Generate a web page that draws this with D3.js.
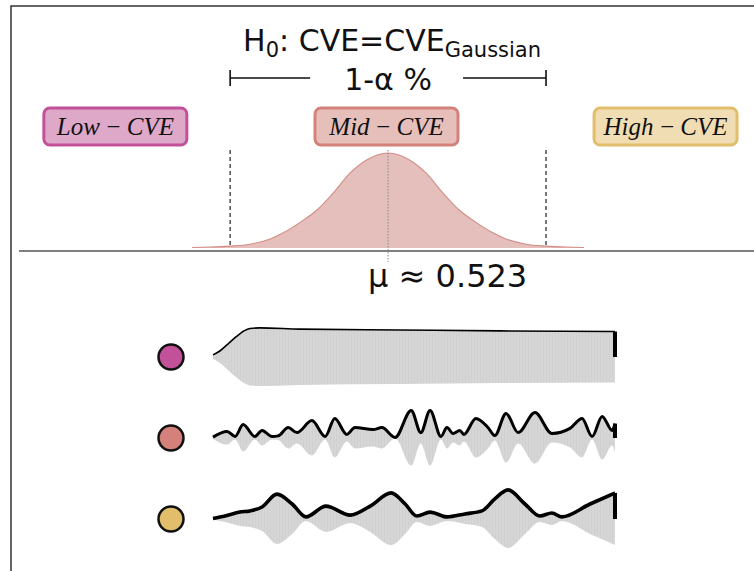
<!DOCTYPE html>
<html>
<head>
<meta charset="utf-8">
<script src="https://cdn.jsdelivr.net/npm/d3@7"></script>
<style>
  html, body { margin: 0; padding: 0; background: #fff; }
  svg { display: block; }
</style>
</head>
<body>
<svg id="chart" width="754" height="571"></svg>
<script>
// ---- Null distribution (relative density over CVE) ----
const MU = 0.523;
const CRIT_LO = 0.493, CRIT_HI = 0.553;
const gaussCVE = [0.4858, 0.4892, 0.4930, 0.4968, 0.5006, 0.5031, 0.5063, 0.5095, 0.5126, 0.5158, 0.5190, 0.5230,
                  0.5270, 0.5302, 0.5334, 0.5365, 0.5397, 0.5429, 0.5454, 0.5492, 0.5530, 0.5568, 0.5602];
const gaussDensity = [0.005, 0.01, 0.02, 0.04, 0.095, 0.16, 0.27, 0.40, 0.58, 0.79, 0.93, 1.0,
                      0.93, 0.79, 0.58, 0.40, 0.27, 0.16, 0.095, 0.04, 0.02, 0.01, 0.005];

// ---- Category labels ----
const categories = ["Low", "Mid", "High"];
const categoryFill = ["#dea8c9", "#e6bfbb", "#f0ddb3"];
const categoryStroke = ["#c2519a", "#d3817a", "#e2bd6c"];
const categoryPos = [0.4712, 0.5227, 0.5757];   // label centres on the CVE axis

// ---- Example signals: envelope amplitude over time (% of duration) ----
const lowT   = [0, 1.7, 3.7, 5.7, 7.7, 9.2, 11.7, 21.6, 46.5, 71.4, 100];
const lowAmp = [0.07, 0.2, 0.43, 0.67, 0.87, 0.95, 0.97, 0.93, 0.9, 0.87, 0.85];

const midT   = [0, 3.5, 5.5, 7.5, 10.4, 12.2, 14.7, 16.2, 18.7, 20.9, 24.6, 27.9, 30.3, 33.3, 35.3, 39.8, 42.0, 45.3,
                49.3, 51.7, 54.0, 56.7, 58.2, 59.7, 61.4, 62.4, 65.4, 68.4, 70.1, 72.9, 75.9, 80.1, 84.3, 88.8,
                91.8, 94.3, 96.8, 99.3, 100];
const midAmp = [0.03, 0.22, 0.05, 0.45, 0.05, 0.25, 0.05, 0.07, 0.35, 0.18, 0.58, 0.05, 0.65, 0.12, 0.35, 0.28, 0.35, 0.02,
                0.92, 0.18, 0.92, 0.05, 0.35, 0.15, 0.25, 0.12, 0.65, 0.35, 0.08, 0.82, 0.18, 0.85, 0.15, 0.32,
                0.65, 0.05, 0.72, 0.25, 0.48];

const highT   = [0, 3.0, 6.7, 9.2, 12.2, 15.9, 19.7, 23.1, 28.1, 34.1, 39.1, 44.3, 47.8, 50.7, 54.0, 58.2, 62.7,
                 66.9, 70.1, 73.4, 77.6, 81.3, 84.3, 86.8, 93.8, 100];
const highAmp = [0.02, 0.1, 0.23, 0.27, 0.4, 0.83, 0.5, 0.07, 0.43, 0.13, 0.43, 0.87, 0.5, 0.1, 0.23, 0.07, 0.17,
                 0.27, 0.67, 0.97, 0.5, 0.1, 0.2, 0.07, 0.5, 0.87];

const signals = [
  { t: lowT,  amp: lowAmp,  color: categoryStroke[0], lw: 1.6 },
  { t: midT,  amp: midAmp,  color: categoryStroke[1], lw: 3.0 },
  { t: highT, amp: highAmp, color: categoryStroke[2], lw: 3.6 }
];

// ---- Drawing ----
const svg = d3.select("#chart");
svg.append("rect").attr("width", 754).attr("height", 571).attr("fill", "#fff");

// frame
svg.append("path")
  .attr("d", "M11,571 L11,6 L754,6")
  .attr("fill", "none").attr("stroke", "#333").attr("stroke-width", 1.5);

const xCVE = d3.scaleLinear().domain([0.4529, 0.5925]).range([19, 754]);
const yDens = d3.scaleLinear().domain([0, 1]).range([248, 153]);

// null distribution
const gauss = gaussCVE.map((c, i) => [c, gaussDensity[i]]);
svg.append("path")
  .datum(gauss)
  .attr("d", d3.area().curve(d3.curveMonotoneX)
    .x(d => xCVE(d[0])).y0(yDens(0)).y1(d => yDens(d[1])))
  .attr("fill", "#e5bfbc");
svg.append("path")
  .datum(gauss)
  .attr("d", d3.line().curve(d3.curveMonotoneX)
    .x(d => xCVE(d[0])).y(d => yDens(d[1])))
  .attr("fill", "none").attr("stroke", "#d38c86").attr("stroke-width", 1.1);

// baseline
svg.append("line")
  .attr("x1", 19).attr("x2", 754).attr("y1", 251).attr("y2", 251)
  .attr("stroke", "#555").attr("stroke-width", 1.5);

// critical values
[CRIT_LO, CRIT_HI].forEach(c => {
  svg.append("line")
    .attr("x1", xCVE(c)).attr("x2", xCVE(c)).attr("y1", 150).attr("y2", 247)
    .attr("stroke", "#333").attr("stroke-width", 1.3).attr("stroke-dasharray", "4,3");
});

// mean
svg.append("line")
  .attr("x1", xCVE(MU)).attr("x2", xCVE(MU)).attr("y1", 150).attr("y2", 262)
  .attr("stroke", "#888").attr("stroke-width", 1).attr("stroke-dasharray", "1.5,1.5");

svg.append("text")
  .attr("x", xCVE(MU) - 20).attr("y", 287)
  .attr("font-family", "DejaVu Sans").attr("font-size", 32)
  .attr("fill", "#111")
  .text("μ ≈ " + MU.toFixed(3));

// title
const title = svg.append("text")
  .attr("x", xCVE(MU) + 4).attr("y", 51)
  .attr("text-anchor", "middle")
  .attr("font-family", "DejaVu Sans").attr("font-size", 30).attr("fill", "#111");
title.append("tspan").text("H");
title.append("tspan").attr("font-size", 21).attr("dy", 6).text("0");
title.append("tspan").attr("dy", -6).text(": CVE=CVE");
title.append("tspan").attr("font-size", 21).attr("dy", 6).text("Gaussian");

// confidence bracket
const by = 78;
const bx0 = xCVE(CRIT_LO), bx1 = xCVE(CRIT_HI);
svg.append("path")
  .attr("d", `M${bx0},${by - 8} V${by + 8} M${bx0},${by} H${bx0 + 80}
              M${bx1 - 83},${by} H${bx1} M${bx1},${by - 8} V${by + 8}`)
  .attr("fill", "none").attr("stroke", "#111").attr("stroke-width", 1.6);
svg.append("text")
  .attr("x", xCVE(MU)).attr("y", 90)
  .attr("text-anchor", "middle")
  .attr("font-family", "DejaVu Sans").attr("font-size", 30).attr("fill", "#111")
  .text("1-α %");

// category labels
categories.forEach((c, i) => {
  const cx = xCVE(categoryPos[i]);
  const g = svg.append("g");
  g.append("rect")
    .attr("x", cx - 71.5).attr("y", 108).attr("width", 143).attr("height", 37)
    .attr("rx", 6).attr("ry", 6)
    .attr("fill", categoryFill[i]).attr("stroke", categoryStroke[i]).attr("stroke-width", 3);
  g.append("text")
    .attr("x", cx).attr("y", 135)
    .attr("text-anchor", "middle")
    .attr("font-family", "Liberation Serif").attr("font-style", "italic")
    .attr("font-size", 25).attr("fill", "#111")
    .text(c + "\u2009\u2212\u2009CVE");
});

// faint stripe texture for the oscillating signal
const defs = svg.append("defs");
const pat = defs.append("pattern")
  .attr("id", "carrier").attr("patternUnits", "userSpaceOnUse")
  .attr("width", 3).attr("height", 10);
pat.append("rect").attr("width", 3).attr("height", 10).attr("fill", "#d6d6d6");
pat.append("line").attr("x1", 0.5).attr("x2", 0.5).attr("y1", 0).attr("y2", 10)
  .attr("stroke", "#cccccc").attr("stroke-width", 0.6);

// example signals
const xT = d3.scaleLinear().domain([0, 100]).range([213, 615]);
const rowY = d3.scalePoint().domain([0, 1, 2]).range([357, 519]);
const ampPx = 30;

signals.forEach((s, i) => {
  const cy = rowY(i);
  const pts = s.t.map((t, k) => [t, s.amp[k]]);
  svg.append("path")
    .datum(pts)
    .attr("d", d3.area().curve(d3.curveMonotoneX)
      .x(d => xT(d[0])).y0(d => cy + d[1] * ampPx).y1(d => cy - d[1] * ampPx))
    .attr("fill", "url(#carrier)");
  svg.append("path")
    .datum(pts)
    .attr("d", d3.line().curve(d3.curveMonotoneX)
      .x(d => xT(d[0])).y(d => cy - d[1] * ampPx))
    .attr("fill", "none").attr("stroke", "#000")
    .attr("stroke-width", s.lw).attr("stroke-linejoin", "round");
  const last = pts[pts.length - 1];
  svg.append("line")
    .attr("x1", xT(last[0])).attr("x2", xT(last[0]))
    .attr("y1", cy).attr("y2", cy - last[1] * ampPx)
    .attr("stroke", "#000").attr("stroke-width", 4);
  svg.append("circle")
    .attr("cx", 171).attr("cy", cy).attr("r", 12.5)
    .attr("fill", s.color).attr("stroke", "#111").attr("stroke-width", 2.5);
});
</script>
</body>
</html>
